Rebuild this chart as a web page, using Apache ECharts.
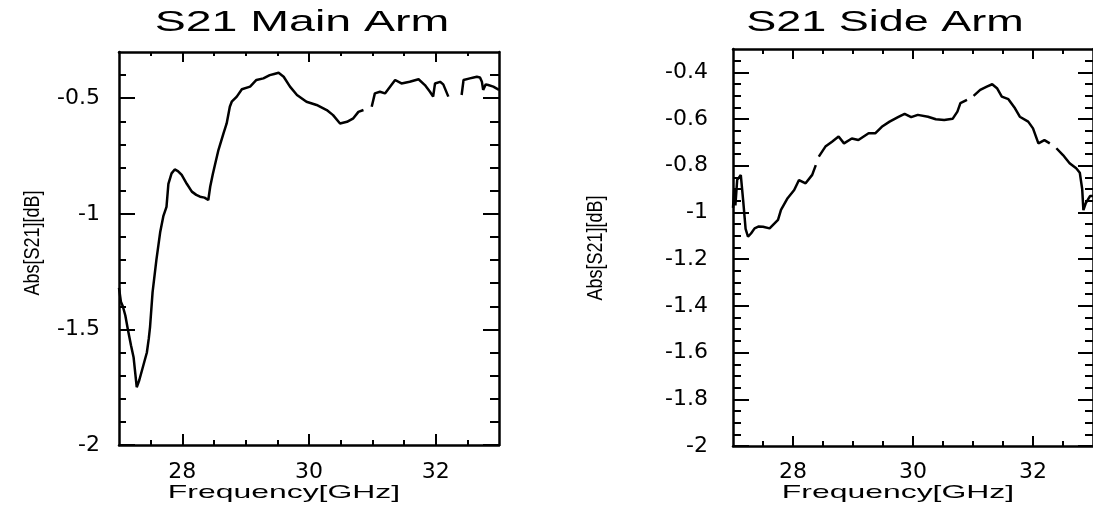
<!DOCTYPE html>
<html>
<head>
<meta charset="utf-8">
<script src="https://cdn.jsdelivr.net/npm/echarts@6/dist/echarts.min.js"></script>
<style>
html,body{margin:0;padding:0;background:#fff;}
#chart{width:1093px;height:508px;}
</style>
</head>
<body>
<div id="chart"></div>
<script>
// ---------------- data ----------------
const titles = ['S21 Main Arm', 'S21 Side Arm'];
const xAxisName = 'Frequency[GHz]';
const yAxisName = 'Abs[S21][dB]';

const mainFreq = [27.00,27.03,27.06,27.10,27.14,27.19,27.23,27.28,27.32,27.36,27.40,27.44,27.47,27.49,27.53,27.59,27.65,27.70,27.75,27.78,27.83,27.88,27.93,27.99,28.07,28.15,28.22,28.28,28.35,28.41,28.44,28.48,28.52,28.57,28.65,28.70,28.75,28.78,28.86,28.94,29.07,29.17,29.28,29.38,29.45,29.52,29.60,29.70,29.81,29.96,30.12,30.28,30.38,30.49,30.60,30.70,30.78,30.86,30.92,30.99,31.04,31.12,31.20,31.28,31.36,31.46,31.59,31.73,31.83,31.91,31.96,31.99,32.07,32.12,32.20,32.30,32.41,32.44,32.54,32.60,32.65,32.70,32.73,32.75,32.79,32.83,32.91,33.00];
const mainS21 = [-1.32,-1.38,-1.40,-1.44,-1.50,-1.57,-1.62,-1.75,-1.72,-1.68,-1.64,-1.60,-1.54,-1.49,-1.34,-1.20,-1.08,-1.01,-0.97,-0.87,-0.825,-0.808,-0.815,-0.832,-0.87,-0.904,-0.918,-0.926,-0.930,-0.940,-0.883,-0.83,-0.782,-0.724,-0.652,-0.609,-0.537,-0.515,-0.493,-0.461,-0.450,-0.421,-0.414,-0.400,-0.395,-0.390,-0.407,-0.450,-0.486,-0.515,-0.529,-0.551,-0.573,-0.609,-0.602,-0.587,-0.559,-0.551,null,-0.537,-0.479,-0.472,-0.479,-0.450,-0.421,-0.436,-0.429,-0.418,-0.443,-0.472,-0.493,-0.436,-0.429,-0.440,-0.493,null,-0.486,-0.421,-0.414,-0.410,-0.407,-0.410,-0.429,-0.464,-0.440,-0.443,-0.450,-0.464];

const sideFreq = [27.00,27.02,27.04,27.07,27.10,27.13,27.17,27.21,27.25,27.30,27.36,27.43,27.50,27.61,27.68,27.75,27.80,27.91,28.02,28.10,28.21,28.32,28.38,28.41,28.43,28.54,28.65,28.76,28.85,28.98,29.09,29.26,29.37,29.48,29.61,29.75,29.86,29.97,30.08,30.25,30.38,30.52,30.66,30.74,30.79,30.90,30.95,31.01,31.12,31.23,31.32,31.40,31.48,31.59,31.70,31.78,31.92,32.00,32.09,32.19,32.28,32.33,32.39,32.50,32.61,32.72,32.78,32.82,32.84,32.88,32.95,33.00];
const sideS21 = [-0.98,-0.90,-0.97,-0.86,-0.85,-0.84,-0.95,-1.07,-1.104,-1.09,-1.068,-1.06,-1.061,-1.068,-1.05,-1.032,-0.989,-0.939,-0.904,-0.861,-0.875,-0.839,-0.797,null,-0.761,-0.718,-0.697,-0.675,-0.704,-0.683,-0.690,-0.661,-0.661,-0.633,-0.611,-0.592,-0.578,-0.592,-0.582,-0.590,-0.601,-0.604,-0.599,-0.568,-0.532,-0.518,null,-0.501,-0.475,-0.461,-0.451,-0.468,-0.504,-0.515,-0.554,-0.590,-0.611,-0.640,-0.704,-0.690,-0.704,null,-0.725,-0.754,-0.789,-0.811,-0.83,-0.90,-0.99,-0.96,-0.93,-0.93];

// ticks
const xRange = [27, 33];
const yRange = [-2, -0.3];
const xMajor = [28, 30, 32];
const xMinor = [27.5, 28.5, 29, 29.5, 30.5, 31, 31.5, 32.5];
const mainYMajor = [-2, -1.5, -1, -0.5];
const mainYMinor = [-1.9,-1.8,-1.7,-1.6,-1.4,-1.3,-1.2,-1.1,-0.9,-0.8,-0.7,-0.6,-0.4];
const sideYMajor = [-2, -1.8, -1.6, -1.4, -1.2, -1, -0.8, -0.6, -0.4];
const sideYMinor = [-1.95,-1.9,-1.85,-1.75,-1.7,-1.65,-1.55,-1.5,-1.45,-1.35,-1.3,-1.25,-1.15,-1.1,-1.05,-0.95,-0.9,-0.85,-0.75,-0.7,-0.65,-0.55,-0.5,-0.45,-0.35];

// ---------------- chart ----------------
const LABEL_FONT = '"DejaVu Sans", sans-serif';
const TEXT_FONT = '"Liberation Sans", Arial, sans-serif';
const INK = '#000';

function pairs(xs, ys) { return xs.map((x, i) => [x, ys[i]]); }

function makeAxis(kind, grid, pos, ticks, len, opts) {
  const range = kind === 'x' ? xRange : yRange;
  return {
    type: 'value', gridIndex: grid, position: pos,
    min: range[0], max: range[1],
    axisLine: { show: !!opts.line, onZero: false, lineStyle: { color: INK, width: 2.5 } },
    axisTick: { show: true, inside: true, length: len, customValues: ticks, lineStyle: { color: INK, width: 2 } },
    axisLabel: opts.labels ? {
      show: true, customValues: opts.labels, margin: opts.margin,
      color: INK, fontSize: 22, fontFamily: LABEL_FONT
    } : { show: false },
    splitLine: { show: false },
    minorTick: { show: false },
    z: 5
  };
}

const grids = [
  { left: 119, top: 52, width: 380, height: 393 },
  { left: 733, top: 49, width: 365, height: 397 }
];

const xAxes = [
  // main arm
  makeAxis('x', 0, 'bottom', xMajor, 11, { line: true, labels: xMajor, margin: 16 }),
  makeAxis('x', 0, 'bottom', xMinor, 5, {}),
  makeAxis('x', 0, 'top', xMajor, 10, { line: true }),
  makeAxis('x', 0, 'top', xMinor, 4, {}),
  // side arm
  makeAxis('x', 1, 'bottom', xMajor, 10, { line: true, labels: xMajor, margin: 15 }),
  makeAxis('x', 1, 'bottom', xMinor, 5, {}),
  makeAxis('x', 1, 'top', xMajor, 10, { line: true }),
  makeAxis('x', 1, 'top', xMinor, 5, {})
];
const yAxes = [
  makeAxis('y', 0, 'left', mainYMajor, 16, { line: true, labels: mainYMajor, margin: 19 }),
  makeAxis('y', 0, 'left', mainYMinor, 7, {}),
  makeAxis('y', 0, 'right', mainYMajor, 16, { line: true }),
  makeAxis('y', 0, 'right', mainYMinor, 9, {}),
  makeAxis('y', 1, 'left', sideYMajor, 16, { line: true, labels: sideYMajor, margin: 25 }),
  makeAxis('y', 1, 'left', sideYMinor, 8, {}),
  makeAxis('y', 1, 'right', sideYMajor, 15, { line: true }),
  makeAxis('y', 1, 'right', sideYMinor, 8, {})
];

function txt(text, x, y, size, sx, rot, sy) {
  return {
    type: 'text', x: x, y: y, rotation: rot || 0, scaleX: sx || 1, scaleY: sy || 1, z: 10,
    style: { text: text, fill: INK, font: size + 'px ' + TEXT_FONT, align: 'center', verticalAlign: 'middle' }
  };
}

const chart = echarts.init(document.getElementById('chart'), null, { renderer: 'canvas' });
chart.setOption({
  animation: false,
  backgroundColor: '#fff',
  grid: grids,
  xAxis: xAxes,
  yAxis: yAxes,
  series: [
    { type: 'line', xAxisIndex: 0, yAxisIndex: 0, data: pairs(mainFreq, mainS21),
      showSymbol: false, connectNulls: false, lineStyle: { color: INK, width: 2.5 }, z: 3 },
    { type: 'line', xAxisIndex: 4, yAxisIndex: 4, data: pairs(sideFreq, sideS21),
      showSymbol: false, connectNulls: false, lineStyle: { color: INK, width: 2.5 }, z: 3 }
  ],
  graphic: [
    txt(titles[0], 302, 23, 30, 1.55),
    txt(titles[1], 885, 23, 30, 1.5),
    txt(xAxisName, 284, 493, 19, 1.68),
    txt(xAxisName, 898, 493, 19, 1.68),
    txt(yAxisName, 33, 243, 18, 1, Math.PI / 2, 1.2),
    txt(yAxisName, 596, 248, 18, 1, Math.PI / 2, 1.2)
  ]
});
</script>
</body>
</html>
